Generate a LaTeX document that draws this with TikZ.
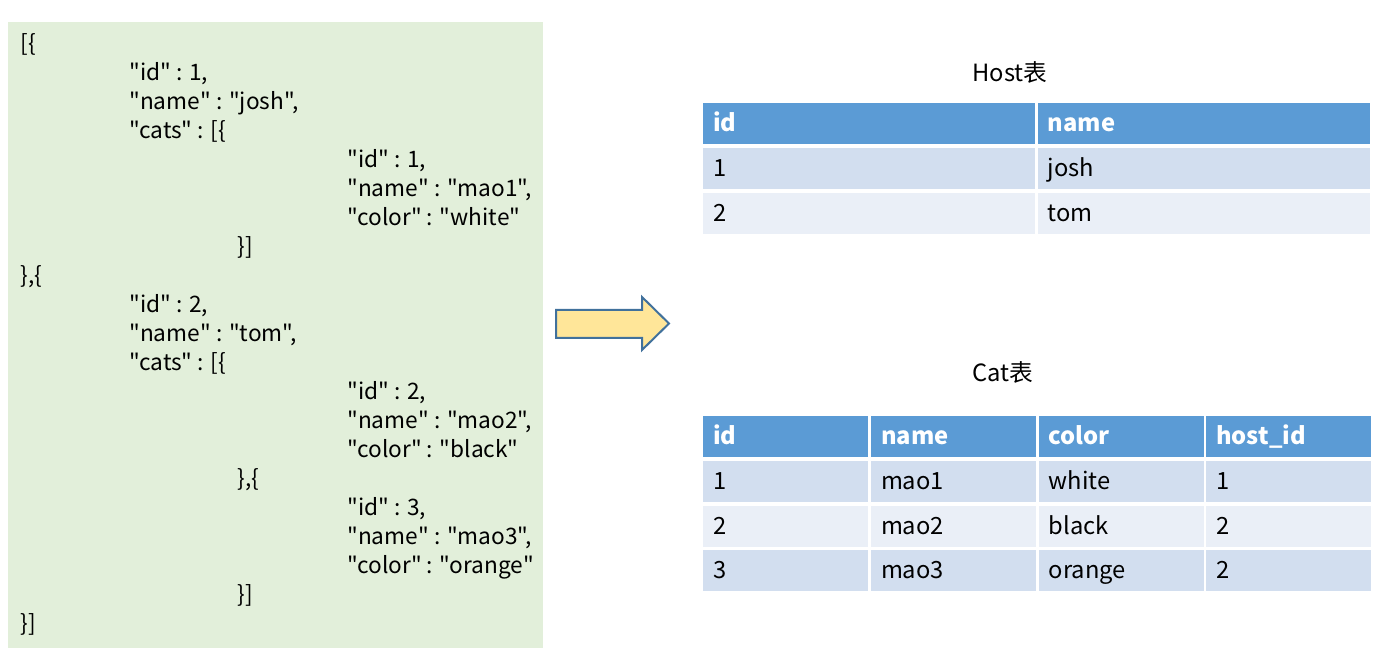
\documentclass[tikz,border=0pt]{standalone}
\usepackage{fontspec}
\setmainfont{Noto Sans CJK SC}[Ligatures=TeXOff]
\usetikzlibrary{positioning}
\definecolor{jsongreen}{HTML}{E2EFDA}
\definecolor{headblue}{HTML}{5B9BD5}
\definecolor{rowdark}{HTML}{D2DEEF}
\definecolor{rowlight}{HTML}{EAEFF7}
\definecolor{arrowfill}{HTML}{FFE699}
\definecolor{arrowline}{HTML}{41719C}

\begin{document}
\begin{tikzpicture}[
        x=0.02cm, y=-0.02cm,
        font=\fontsize{13.5}{16}\selectfont,
        code/.style={anchor=base west, inner sep=0pt, font=\fontsize{12.9}{15}\selectfont},
        cell/.style={inner xsep=0.2cm, inner ysep=0pt, minimum height=0.82cm, text height=1.05em, text depth=0.15em, align=left},
        hostcell/.style={cell, text width=6.24cm},
        catcell/.style={cell, text width=2.9cm},
        headrow/.style={fill=headblue, text=white, font=\fontsize{13.5}{16}\selectfont\bfseries},
        rowa/.style={fill=rowdark},
        rowb/.style={fill=rowlight}
    ]
    \useasboundingbox (0,0) rectangle (1393,661);
    % json source
    \node[fill=jsongreen, anchor=north west, minimum width=10.7cm, minimum height=12.52cm, inner sep=0pt] (json) at (8,22) {};
    \foreach \i/\x/\t in {1/20/{[\{}, 2/129/{"id" : 1,}, 3/129/{"name" : "josh",}, 4/129/{"cats" : [\{},
        5/347/{"id" : 1,}, 6/347/{"name" : "mao1",}, 7/347/{"color" : "white"}, 8/237/{\}]},
        9/20/{\},\{}, 10/129/{"id" : 2,}, 11/129/{"name" : "tom",}, 12/129/{"cats" : [\{},
        13/347/{"id" : 2,}, 14/347/{"name" : "mao2",}, 15/347/{"color" : "black"}, 16/237/{\},\{},
        17/347/{"id" : 3,}, 18/347/{"name" : "mao3",}, 19/347/{"color" : "orange"}, 20/237/{\}]},
        21/20/{\}]}}
        \node[code] (j\i) at (\x, {23+29*\i}) {\t};
    % arrow
    \filldraw[fill=arrowfill, draw=arrowline, line width=0.04cm]
        (556,310) -- (642,310) -- (642,297) -- (669,323.5) -- (642,350) -- (642,338) -- (556,338) -- cycle;
    % host table
    \node (hosttitle) at (1010,72) {Host表};
    \node[hostcell, headrow, anchor=north west] (h-id) at (703,103) {id};
    \node[hostcell, headrow, right=0.04cm of h-id] (h-name) {name};
    \node[hostcell, rowa, below=0.06cm of h-id] (h-id1) {1};
    \node[hostcell, rowa, right=0.04cm of h-id1] (h-name1) {josh};
    \node[hostcell, rowb, below=0.06cm of h-id1] (h-id2) {2};
    \node[hostcell, rowb, right=0.04cm of h-id2] (h-name2) {tom};
    % cat table
    \node (cattitle) at (1003,372) {Cat表};
    \node[catcell, headrow, anchor=north west] (c-id) at (703,416) {id};
    \node[catcell, headrow, right=0.04cm of c-id] (c-name) {name};
    \node[catcell, headrow, right=0.04cm of c-name] (c-color) {color};
    \node[catcell, headrow, right=0.04cm of c-color] (c-host) {host\_id};
    \node[catcell, rowa, below=0.06cm of c-id] (c-id1) {1};
    \node[catcell, rowa, right=0.04cm of c-id1] (c-name1) {mao1};
    \node[catcell, rowa, right=0.04cm of c-name1] (c-color1) {white};
    \node[catcell, rowa, right=0.04cm of c-color1] (c-host1) {1};
    \node[catcell, rowb, below=0.06cm of c-id1] (c-id2) {2};
    \node[catcell, rowb, right=0.04cm of c-id2] (c-name2) {mao2};
    \node[catcell, rowb, right=0.04cm of c-name2] (c-color2) {black};
    \node[catcell, rowb, right=0.04cm of c-color2] (c-host2) {2};
    \node[catcell, rowa, below=0.06cm of c-id2] (c-id3) {3};
    \node[catcell, rowa, right=0.04cm of c-id3] (c-name3) {mao3};
    \node[catcell, rowa, right=0.04cm of c-name3] (c-color3) {orange};
    \node[catcell, rowa, right=0.04cm of c-color3] (c-host3) {2};
\end{tikzpicture}
\end{document}
